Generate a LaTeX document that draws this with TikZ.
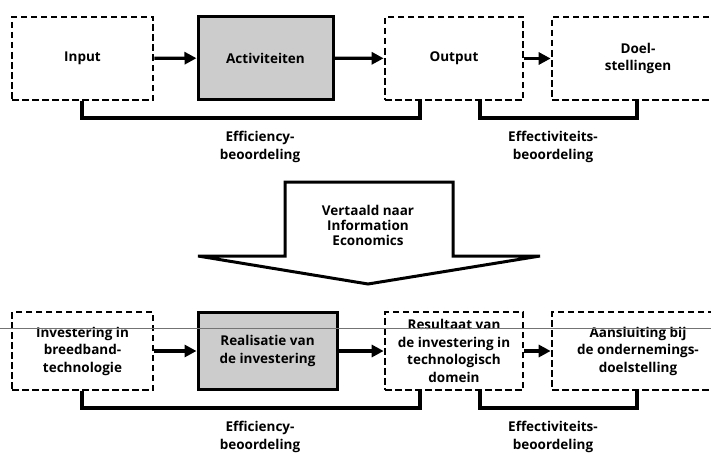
\documentclass[tikz,border=0pt]{standalone}
\usepackage{fontspec}
\setmainfont{Open Sans}
\usetikzlibrary{arrows.meta}
\begin{document}
\begin{tikzpicture}[x=1pt,y=-1pt,
  txt/.style={font=\bfseries\fontsize{13.5}{17.5}\selectfont,align=center,text=black},
  dbox/.style={txt,draw,dash pattern=on 6.5pt off 3.5pt,line width=2.7pt,inner sep=0pt},
  sbox/.style={txt,draw,fill=black!20,line width=3pt,inner sep=0pt},
  flow/.style={line width=3.3pt,-{Triangle[length=12pt,width=12pt]}},
  brace/.style={line width=3.5pt,line cap=butt,line join=miter},
  lab/.style={txt,inner sep=0pt}
]
\useasboundingbox (0,0) rectangle (711,452);
\clip (0,0) rectangle (711,452);

% upper row
\node[dbox,minimum width=141pt,minimum height=83pt] (in)  at (82.5,58.5) {Input};
\node[sbox,minimum width=135pt,minimum height=82pt] (act) at (265.5,58) {Activiteiten};
\node[dbox,minimum width=138pt,minimum height=83pt] (out) at (454,58.5) {Output};
\node[dbox,minimum width=172pt,minimum height=83pt] (doel) at (638,58.5) {Doel-\\stellingen};

\draw[flow] (in) -- (act);
\draw[flow] (act) -- (out);
\draw[flow] (out) -- (doel);

\coordinate (e1a) at (82,118);
\coordinate (e1b) at (420,118);
\draw[brace] (in.south -| e1a) -- (e1a) -- (e1b) -- (out.south -| e1b);
\coordinate (f1a) at (480,118);
\coordinate (f1b) at (637,118);
\draw[brace] (out.south -| f1a) -- (f1a) -- (f1b) -- (doel.south -| f1b);

\node[lab] (eff1) at (260,147) {Efficiency-\\beoordeling};
\node[lab] (efv1) at (553,147) {Effectiviteits-\\beoordeling};

% translation arrow
\draw[line width=3pt,line join=miter,fill=white]
  (285,182) -- (453,182) -- (453,256) -- (540,256) -- (368,284)
  -- (198,256) -- (285,256) -- cycle;
\node[lab,font=\bfseries\fontsize{13.5}{15}\selectfont] (trans) at (368,225) {Vertaald naar\\Information\\Economics};

% lower row
\node[dbox,minimum width=141pt,minimum height=78pt] (inv)  at (82.5,351) {Investering in\\breedband-\\technologie};
\node[sbox,minimum width=139pt,minimum height=77pt] (real) at (267.5,351) {Realisatie van\\de investering};
\node[dbox,minimum width=138pt,minimum height=78pt] (res)  at (454,351) {Resultaat van\\de investering in\\technologisch\\domein};
\node[dbox,minimum width=172pt,minimum height=78pt] (aans) at (638,351) {Aansluiting bij\\de ondernemings-\\doelstelling};

\draw[flow] (inv) -- (real);
\draw[flow] (real) -- (res);
\draw[flow] (res) -- (aans);

\coordinate (e2a) at (82,408);
\coordinate (e2b) at (420,408);
\draw[brace] (inv.south -| e2a) -- (e2a) -- (e2b) -- (res.south -| e2b);
\coordinate (f2a) at (480,408);
\coordinate (f2b) at (637,408);
\draw[brace] (res.south -| f2a) -- (f2a) -- (f2b) -- (aans.south -| f2b);

\node[lab] (eff2) at (260,437) {Efficiency-\\beoordeling};
\node[lab] (efv2) at (553,437) {Effectiviteits-\\beoordeling};

% thin rule across the lower row
\coordinate (rl) at (0,328);
\coordinate (rr) at (711,328);
\draw[black!55,line width=0.8pt] (rl) -- (rr);
\end{tikzpicture}
\end{document}
